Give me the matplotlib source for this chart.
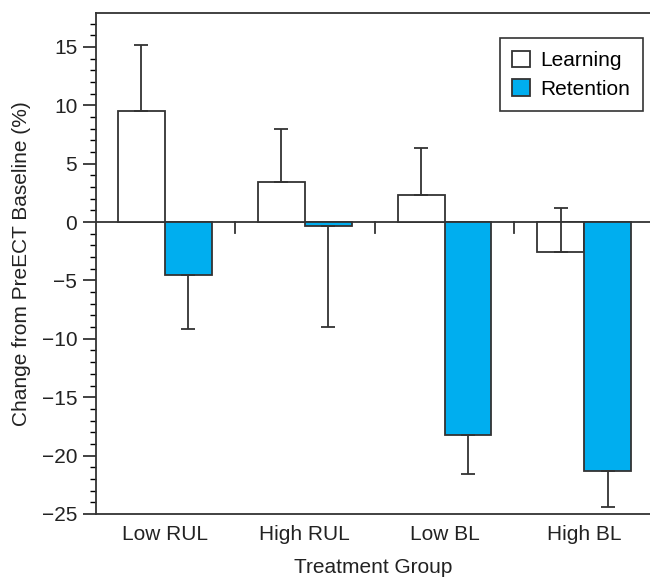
import numpy as np
import matplotlib.pyplot as plt
from matplotlib.ticker import MultipleLocator

plt.rcParams['font.family'] = ['Liberation Sans', 'DejaVu Sans']

groups = ["Low RUL", "High RUL", "Low BL", "High BL"]
learning = [9.5, 3.4, 2.3, -2.6]
learning_err = [5.7, 4.55, 4.0, 3.8]
retention = [-4.5, -0.3, -18.2, -21.3]
retention_err = [4.7, 8.7, 3.4, 3.1]

blue = "#00aeef"
edge = "#333333"
fs = 15

fig = plt.figure(figsize=(6.5, 5.79), dpi=100)
ax = fig.add_axes([0.1477, 0.1123, 0.8523, 0.8652])

x = np.arange(len(groups))
w = 0.336

ax.bar(x - w/2, learning, w, color="white", edgecolor=edge, linewidth=1.3, label="Learning", zorder=2)
ax.bar(x + w/2, retention, w, color=blue, edgecolor=edge, linewidth=1.3, label="Retention", zorder=2)

# one-sided error bars
ax.errorbar(x - w/2, learning, yerr=[np.zeros(4), learning_err], fmt="none",
            ecolor=edge, elinewidth=1.3, capsize=5, capthick=1.3, zorder=3)
ax.errorbar(x + w/2, retention, yerr=[retention_err, np.zeros(4)], fmt="none",
            ecolor=edge, elinewidth=1.3, capsize=5, capthick=1.3, zorder=3)

# zero line with small separators between groups
ax.axhline(0, color=edge, linewidth=1.3, zorder=1)
for s in x[:-1] + 0.5:
    ax.plot([s, s], [0, -0.9], color=edge, linewidth=1.3, zorder=1)

ax.set_xlim(-0.493, 3.47)
ax.set_ylim(-25, 17.9)
ax.yaxis.set_major_locator(MultipleLocator(5))
ax.yaxis.set_minor_locator(MultipleLocator(1))
ax.tick_params(axis="y", which="major", direction="out", length=9.5, width=1.2, labelsize=fs,
               pad=4, colors="#222222")
ax.tick_params(axis="y", which="minor", direction="out", length=4.5, width=1.0)
ax.set_xticks(x)
ax.set_xticklabels(groups)
ax.tick_params(axis="x", length=0, labelsize=fs, pad=8, colors="#222222")

for side in ["left", "bottom", "top"]:
    ax.spines[side].set_linewidth(1.3)
    ax.spines[side].set_color(edge)
ax.spines["right"].set_visible(False)

ax.set_xlabel("Treatment Group", fontsize=fs, labelpad=10, color="#222222")
ax.set_ylabel("Change from PreECT Baseline (%)", fontsize=fs, labelpad=8, color="#222222")

leg = ax.legend(loc="upper right", bbox_to_anchor=(0.987, 0.950), borderaxespad=0, fontsize=fs,
                fancybox=False, edgecolor=edge, framealpha=1, handlelength=0.85, handleheight=0.85,
                handletextpad=0.5, borderpad=0.6, labelspacing=0.45)
leg.get_frame().set_linewidth(1.2)

fig.savefig("out.png", dpi=100)
